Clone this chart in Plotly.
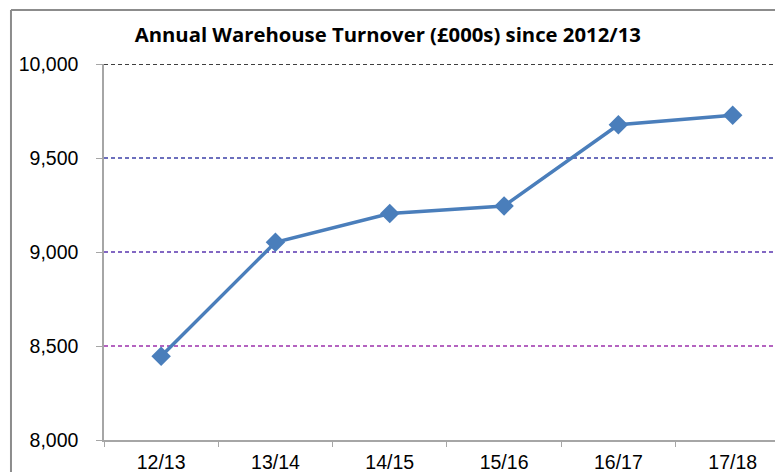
import plotly.graph_objects as go

categories = ["12/13", "13/14", "14/15", "15/16", "16/17", "17/18"]
turnover = [8445, 9052, 9205, 9245, 9677, 9728]
grid_values = [10000, 9500, 9000, 8500]
grid_colors = ["#000000", "#3c40a8", "#5a36b0", "#9c30ac"]
y_ticks = [8000, 8500, 9000, 9500, 10000]
y_tick_labels = ["8,000", "8,500", "9,000", "9,500", "10,000"]
title_text = "Annual Warehouse Turnover (£000s) since 2012/13"

fig = go.Figure()
fig.add_trace(go.Scatter(
    x=categories, y=turnover, mode="lines+markers",
    line=dict(color="#4a7ebb", width=3.5),
    marker=dict(symbol="diamond", size=15, color="#4a7ebb"),
    showlegend=False, hoverinfo="skip",
))

shapes = []
for v, c in zip(grid_values, grid_colors):
    shapes.append(dict(type="line", xref="paper", yref="y", x0=0, x1=1, y0=v, y1=v,
                       line=dict(color=c, width=1.5, dash="4px,3px"), layer="below"))
# outer chart border (left and top)
shapes.append(dict(type="line", xref="paper", yref="paper", x0=-0.137, x1=-0.137, y0=-0.2, y1=1.1436,
                   line=dict(color="#8c8c8c", width=2)))
shapes.append(dict(type="line", xref="paper", yref="paper", x0=-0.137, x1=1.2, y0=1.1436, y1=1.1436,
                   line=dict(color="#8c8c8c", width=2)))

fig.update_layout(
    width=775, height=464,
    margin=dict(l=96, r=0, t=56, b=32),
    paper_bgcolor="white", plot_bgcolor="white",
    shapes=shapes,
    title=dict(text="<b>" + title_text + "</b>", x=0.49, xref="container", xanchor="center",
               y=0.943, yref="container", yanchor="middle",
               font=dict(family="Open Sans", size=20.3, color="black")),
    xaxis=dict(type="category", range=[-0.5, 5.44], showgrid=False,
               showline=True, linecolor="#a6a6a6", linewidth=1.5,
               ticks="outside", tickson="boundaries", ticklen=5, tickcolor="#a6a6a6",
               ticklabelstandoff=4,
               tickfont=dict(family="Liberation Sans", size=19.5, color="black")),
    yaxis=dict(range=[8000, 10000], tickvals=y_ticks, ticktext=y_tick_labels,
               showgrid=False, zeroline=False,
               showline=True, linecolor="#a6a6a6", linewidth=1.5,
               ticks="outside", ticklen=6, tickcolor="#a6a6a6",
               ticklabelstandoff=14,
               tickfont=dict(family="Liberation Sans", size=19.5, color="black")),
)

fig.write_html("out.html")
